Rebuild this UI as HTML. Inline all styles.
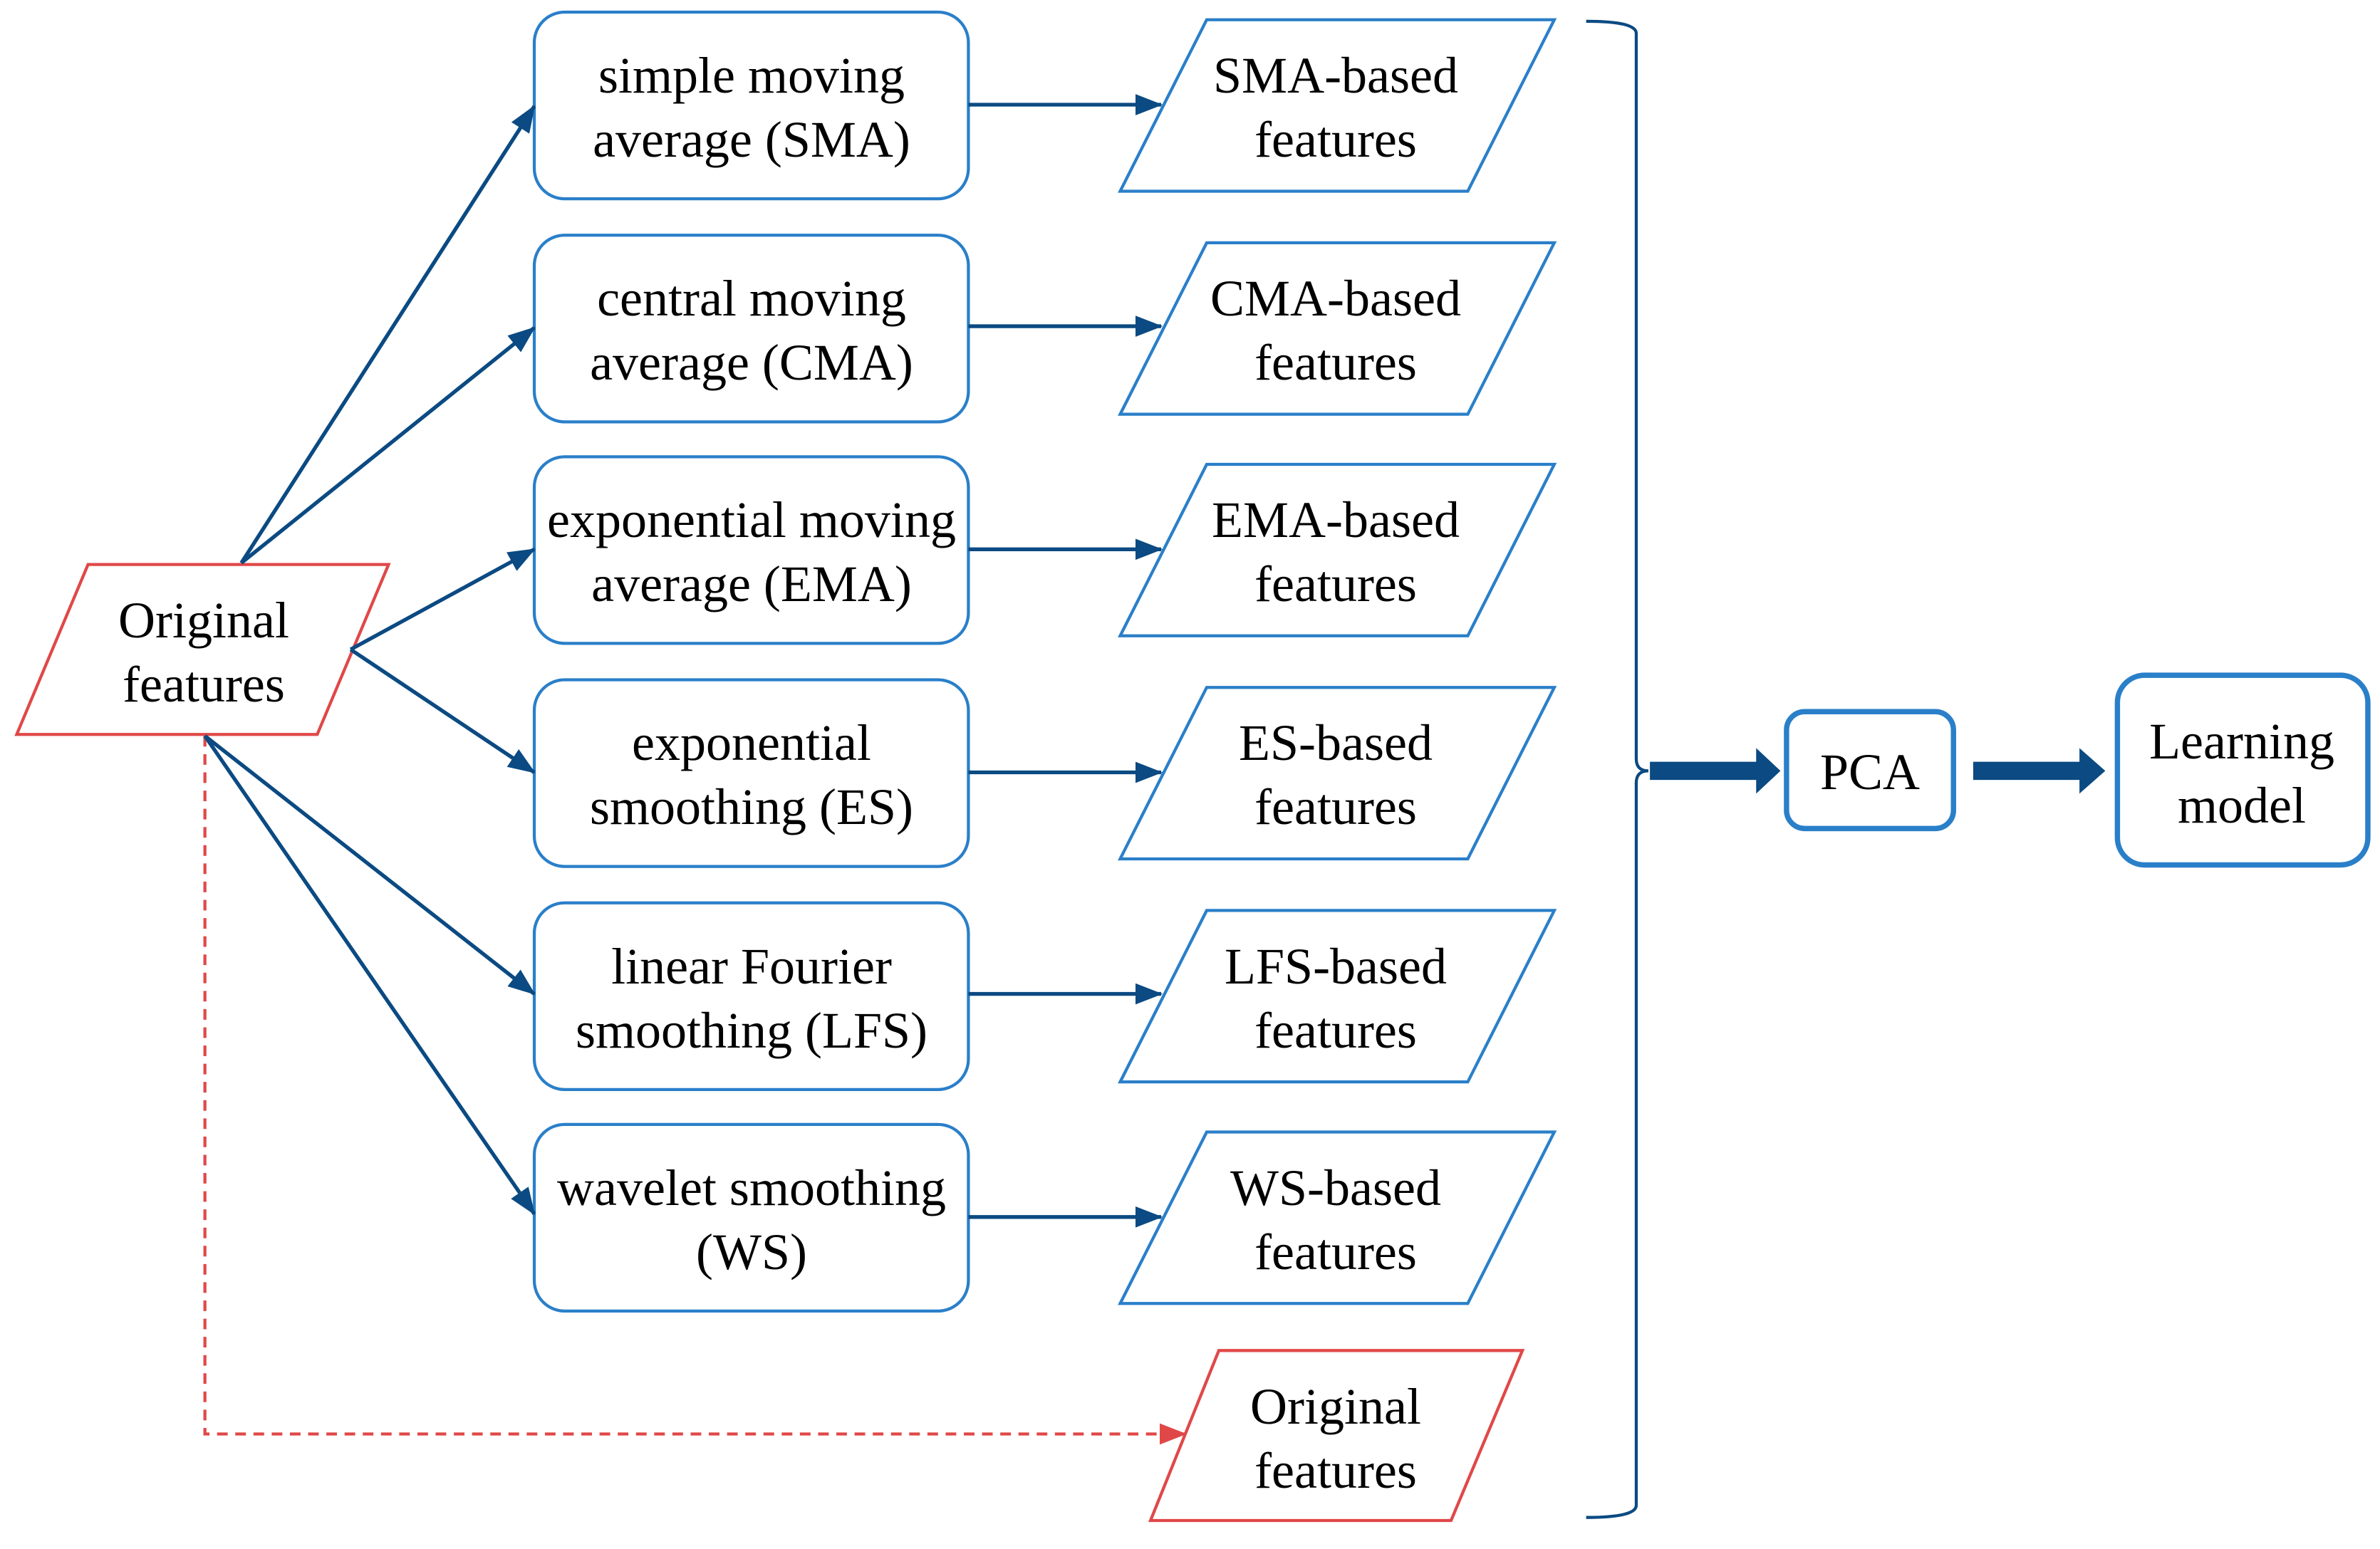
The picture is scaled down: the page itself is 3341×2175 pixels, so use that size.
<!DOCTYPE html>
<html><head><meta charset="utf-8"><style>
html,body{margin:0;padding:0;background:#fff;}
body{position:relative;width:3341px;height:2175px;overflow:hidden;}
svg{display:block;position:absolute;left:0;top:0;}
.t{position:absolute;width:800px;text-align:center;font-family:"Liberation Serif","Times New Roman",serif;font-size:72px;line-height:90px;color:#000;white-space:nowrap;}
</style></head><body>
<svg width="3341" height="2175" viewBox="0 0 1568 1020.8" preserveAspectRatio="none" xmlns="http://www.w3.org/2000/svg">
<defs>
<marker id="ab" markerWidth="18" markerHeight="14" refX="17" refY="7" orient="auto" markerUnits="userSpaceOnUse"><path d="M0,0 L18,7 L0,14 z" fill="#0b4a82"/></marker>
<marker id="ar" markerWidth="18" markerHeight="14" refX="17" refY="7" orient="auto" markerUnits="userSpaceOnUse"><path d="M0,0 L18,7 L0,14 z" fill="#e04848"/></marker>
</defs>
<g fill="none" stroke="#2a7fc9" stroke-width="2">
<rect x="352" y="8" width="286" height="123" rx="20"/>
<rect x="352" y="155" width="286" height="123" rx="20"/>
<rect x="352" y="301" width="286" height="123" rx="20"/>
<rect x="352" y="448" width="286" height="123" rx="20"/>
<rect x="352" y="595" width="286" height="123" rx="20"/>
<rect x="352" y="741" width="286" height="123" rx="20"/>
<path d="M795,13 L1024,13 L967,126 L738,126 Z"/>
<path d="M795,160 L1024,160 L967,273 L738,273 Z"/>
<path d="M795,306 L1024,306 L967,419 L738,419 Z"/>
<path d="M795,453 L1024,453 L967,566 L738,566 Z"/>
<path d="M795,600 L1024,600 L967,713 L738,713 Z"/>
<path d="M795,746 L1024,746 L967,859 L738,859 Z"/>
<rect x="1177" y="469" width="110" height="77" rx="12" stroke-width="3.5"/>
<rect x="1395" y="445" width="165" height="125" rx="18" stroke-width="3.5"/>
</g>
<g fill="none" stroke="#e04848" stroke-width="2">
<path d="M58,372 L256,372 L209,484 L11,484 Z"/>
<path d="M803,890 L1003,890 L956,1002 L758,1002 Z"/>
<path d="M135,485 L135,945 L781,945" stroke-dasharray="7,5" marker-end="url(#ar)"/>
</g>
<g stroke="#0b4a82" stroke-width="2.5" fill="none">
<line x1="159" y1="371" x2="352" y2="70" marker-end="url(#ab)"/>
<line x1="159" y1="371" x2="352" y2="216" marker-end="url(#ab)"/>
<line x1="231" y1="428" x2="352" y2="362" marker-end="url(#ab)"/>
<line x1="231" y1="428" x2="352" y2="509" marker-end="url(#ab)"/>
<line x1="135" y1="485" x2="352" y2="655" marker-end="url(#ab)"/>
<line x1="135" y1="485" x2="352" y2="800" marker-end="url(#ab)"/>
<line x1="638" y1="69" x2="765" y2="69" marker-end="url(#ab)"/>
<line x1="638" y1="215" x2="765" y2="215" marker-end="url(#ab)"/>
<line x1="638" y1="362" x2="765" y2="362" marker-end="url(#ab)"/>
<line x1="638" y1="509" x2="765" y2="509" marker-end="url(#ab)"/>
<line x1="638" y1="655" x2="765" y2="655" marker-end="url(#ab)"/>
<line x1="638" y1="802" x2="765" y2="802" marker-end="url(#ab)"/>
<path d="M1045,14 Q1078,14 1078,22 L1078,500 Q1078,508 1086,508 Q1078,508 1078,516 L1078,992 Q1078,1000 1045,1000" stroke-width="2"/>
</g>
<g fill="#0b4a82">
<path d="M1087,502 L1157,502 L1157,493 L1173,508 L1157,523 L1157,514 L1087,514 Z"/>
<path d="M1300,502 L1370,502 L1370,493 L1387,508 L1370,523 L1370,514 L1300,514 Z"/>
</g>
</svg>
<div class="t" style="left:655px;top:61px">simple moving<br>average (SMA)</div>
<div class="t" style="left:655px;top:374px">central moving<br>average (CMA)</div>
<div class="t" style="left:655px;top:685px">exponential moving<br>average (EMA)</div>
<div class="t" style="left:655px;top:998px">exponential<br>smoothing (ES)</div>
<div class="t" style="left:655px;top:1312px">linear Fourier<br>smoothing (LFS)</div>
<div class="t" style="left:655px;top:1623px">wavelet smoothing<br>(WS)</div>
<div class="t" style="left:1475px;top:61px">SMA-based<br>features</div>
<div class="t" style="left:1475px;top:374px">CMA-based<br>features</div>
<div class="t" style="left:1475px;top:685px">EMA-based<br>features</div>
<div class="t" style="left:1475px;top:998px">ES-based<br>features</div>
<div class="t" style="left:1475px;top:1312px">LFS-based<br>features</div>
<div class="t" style="left:1475px;top:1623px">WS-based<br>features</div>
<div class="t" style="left:1475px;top:1930px">Original<br>features</div>
<div class="t" style="left:-114px;top:826px">Original<br>features</div>
<div class="t" style="left:2225px;top:1039px">PCA</div>
<div class="t" style="left:2747px;top:996px">Learning<br>model</div>
</body></html>
